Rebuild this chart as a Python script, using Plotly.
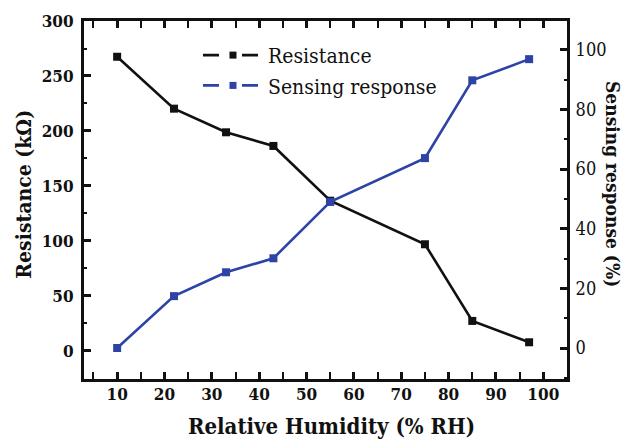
import plotly.graph_objects as go

# Relative humidity levels (% RH)
humidity = [10, 22, 33, 43, 55, 75, 85, 97]
# Film resistance (kOhm) at each humidity level
resistance = [267.5, 220.3, 198.8, 186.4, 136.6, 97.0, 27.3, 7.9]
# Sensing response (%) at each humidity level
response = [0.0, 17.4, 25.4, 30.1, 49.0, 63.7, 89.8, 96.9]

x_ticks = [10, 20, 30, 40, 50, 60, 70, 80, 90, 100]
y_ticks = [0, 50, 100, 150, 200, 250, 300]
y2_ticks = [0, 20, 40, 60, 80, 100]

BLACK = "#111111"
BLUE = "#2D43A6"
SERIF = "'DejaVu Serif Condensed', 'DejaVu Serif', serif"

fig = go.Figure()

fig.add_trace(go.Scatter(
    x=humidity, y=resistance, mode="lines+markers", yaxis="y",
    line=dict(color=BLACK, width=2.6),
    marker=dict(symbol="square", size=8, color=BLACK),
    showlegend=False,
))
fig.add_trace(go.Scatter(
    x=humidity, y=response, mode="lines+markers", yaxis="y2",
    line=dict(color=BLUE, width=2.6),
    marker=dict(symbol="square", size=8, color=BLUE),
    showlegend=False,
))

# legend entries drawn with a dashed sample around the marker
legend_dash = "16px,23px,16px"
fig.add_trace(go.Scatter(
    x=[None], y=[None], mode="lines+markers", name="Resistance",
    line=dict(color=BLACK, width=2.6, dash=legend_dash),
    marker=dict(symbol="square", size=7, color=BLACK),
))
fig.add_trace(go.Scatter(
    x=[None], y=[None], mode="lines+markers", name="Sensing response", yaxis="y2",
    line=dict(color=BLUE, width=2.6, dash=legend_dash),
    marker=dict(symbol="square", size=7, color=BLUE),
))

axis_common = dict(
    showgrid=False, zeroline=False, showline=True, linecolor=BLACK, linewidth=3,
    ticks="inside", ticklen=7, tickwidth=2.5, tickcolor=BLACK,
)

fig.update_layout(
    width=625, height=441,
    margin=dict(l=84, r=58, t=21, b=62),
    plot_bgcolor="white", paper_bgcolor="white",
    font=dict(family=SERIF, color=BLACK),
    xaxis=dict(
        **axis_common, range=[3, 105], tickvals=x_ticks, mirror="allticks",
        minor=dict(dtick=5, tick0=0, ticks="inside", ticklen=3, tickwidth=2, tickcolor=BLACK),
        tickfont=dict(family=SERIF, size=17, weight="bold", color=BLACK),
        ticklabelstandoff=-2,
    ),
    yaxis=dict(
        **axis_common, range=[-25.5, 300], tickvals=y_ticks,
        minor=dict(dtick=25, tick0=0, ticks="inside", ticklen=3, tickwidth=2, tickcolor=BLACK),
        tickfont=dict(family=SERIF, size=17, weight="bold", color=BLACK),
        ticklabelstandoff=4,
    ),
    yaxis2=dict(
        **axis_common, range=[-10.4, 109.7], tickvals=y2_ticks,
        overlaying="y", side="right",
        minor=dict(dtick=10, tick0=0, ticks="inside", ticklen=3, tickwidth=2, tickcolor=BLACK),
        tickfont=dict(family=SERIF, size=18, color=BLACK),
        ticklabelstandoff=2,
    ),
    legend=dict(
        x=0.236, y=0.961, xanchor="left", yanchor="top",
        bgcolor="rgba(0,0,0,0)", borderwidth=0,
        font=dict(family=SERIF, size=21, color=BLACK),
        itemwidth=60, tracegroupgap=0,
    ),
    annotations=[
        dict(text="Relative Humidity (% RH)", xref="paper", yref="paper",
             x=0.513, y=-0.131, xanchor="center", yanchor="middle", showarrow=False,
             font=dict(family=SERIF, size=22, weight="bold", color=BLACK)),
        dict(text="Resistance (kΩ)", xref="paper", yref="paper",
             x=-0.1242, y=0.515, xanchor="center", yanchor="middle", showarrow=False,
             textangle=-90,
             font=dict(family=SERIF, size=21, weight="bold", color=BLACK)),
        dict(text="Sensing response (%)", xref="paper", yref="paper",
             x=1.095, y=0.545, xanchor="center", yanchor="middle", showarrow=False,
             textangle=90,
             font=dict(family=SERIF, size=19, weight="bold", color=BLACK)),
    ],
)

fig.write_html("out.html")
